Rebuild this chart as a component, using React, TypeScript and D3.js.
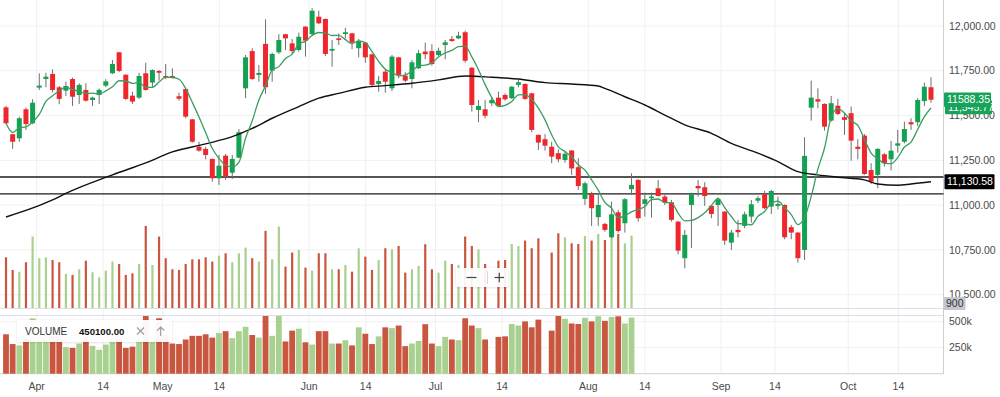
import React from 'react';
import * as d3 from 'd3';

// [open, high, low, close] per trading day
const candles: [number, number, number, number][] = [
  [11546, 11554, 11453, 11457], [11396, 11396, 11314, 11354], [11373, 11494, 11354, 11485], [11535, 11544, 11420, 11453],
  [11457, 11591, 11452, 11572], [11656, 11736, 11643, 11667], [11704, 11739, 11658, 11717], [11732, 11758, 11630, 11643],
  [11658, 11665, 11563, 11593], [11639, 11689, 11609, 11665], [11704, 11712, 11554, 11605], [11615, 11680, 11565, 11671],
  [11643, 11680, 11578, 11583], [11587, 11605, 11554, 11600], [11615, 11652, 11565, 11643], [11667, 11703, 11658, 11691],
  [11736, 11810, 11732, 11788], [11853, 11856, 11742, 11749], [11728, 11730, 11587, 11593], [11611, 11633, 11565, 11578],
  [11600, 11739, 11593, 11721], [11736, 11795, 11639, 11643], [11684, 11758, 11658, 11754], [11749, 11754, 11695, 11739],
  [11721, 11788, 11703, 11714], [11721, 11764, 11708, 11712], [11608, 11628, 11583, 11594], [11648, 11650, 11485, 11494],
  [11479, 11481, 11349, 11354], [11326, 11354, 11299, 11304], [11314, 11326, 11256, 11280], [11258, 11260, 11131, 11150],
  [11150, 11280, 11113, 11220], [11276, 11286, 11141, 11159], [11181, 11280, 11146, 11258], [11265, 11424, 11262, 11407],
  [11652, 11838, 11597, 11825], [11860, 11876, 11700, 11704], [11727, 11782, 11689, 11738], [11900, 12037, 11621, 11658],
  [11751, 11851, 11689, 11844], [11853, 11954, 11844, 11922], [11954, 11956, 11866, 11931], [11903, 11927, 11844, 11860],
  [11866, 11963, 11857, 11940], [11996, 12000, 11829, 11918], [11954, 12099, 11950, 12085], [12052, 12085, 12011, 12015],
  [12039, 12042, 11833, 11844], [11862, 11922, 11773, 11872], [11931, 11959, 11894, 11922], [11955, 11990, 11931, 11965],
  [11959, 11962, 11870, 11907], [11876, 11927, 11825, 11916], [11907, 11910, 11795, 11825], [11842, 11845, 11661, 11671],
  [11676, 11721, 11633, 11693], [11745, 11758, 11628, 11689], [11652, 11838, 11637, 11829], [11825, 11828, 11708, 11727],
  [11723, 11742, 11686, 11695], [11704, 11810, 11652, 11797], [11764, 11866, 11760, 11848], [11857, 11907, 11814, 11842],
  [11860, 11898, 11778, 11788], [11838, 11879, 11833, 11862], [11894, 11922, 11814, 11909], [11927, 11944, 11912, 11916],
  [11931, 11968, 11927, 11946], [11965, 11974, 11795, 11806], [11767, 11770, 11522, 11559], [11531, 11587, 11463, 11554],
  [11535, 11587, 11485, 11499], [11569, 11605, 11554, 11587], [11600, 11633, 11550, 11554], [11615, 11624, 11583, 11591],
  [11597, 11665, 11593, 11661], [11671, 11699, 11658, 11686], [11676, 11680, 11587, 11593], [11624, 11627, 11407, 11420],
  [11392, 11395, 11308, 11349], [11368, 11396, 11304, 11332], [11326, 11354, 11234, 11271], [11290, 11312, 11239, 11256],
  [11252, 11299, 11237, 11287], [11305, 11308, 11169, 11205], [11212, 11262, 11085, 11107], [11035, 11131, 11001, 11122],
  [11063, 11075, 10884, 10983], [10933, 11066, 10884, 11001], [10895, 10902, 10852, 10862], [10821, 11020, 10815, 10949],
  [10960, 10973, 10847, 10856], [10899, 11039, 10847, 11033], [11089, 11178, 11057, 11113], [11141, 11145, 10908, 10927],
  [11007, 11070, 10936, 11033], [11039, 11070, 10930, 11048], [11094, 11141, 11048, 11051], [11048, 11057, 11001, 11014],
  [11016, 11029, 10908, 10918], [10908, 10912, 10726, 10746], [10704, 10862, 10648, 10834], [11001, 11070, 10760, 11061],
  [11107, 11141, 11048, 11094], [11100, 11128, 10996, 11051], [10996, 11001, 10927, 10951], [11001, 11042, 10884, 11033],
  [10964, 10966, 10778, 10802], [10791, 10862, 10750, 10847], [10862, 10918, 10821, 10849], [10884, 10964, 10871, 10949],
  [10936, 11029, 10902, 11005], [11025, 11051, 11011, 11039], [11061, 11081, 10977, 10983], [10992, 11085, 10951, 11079],
  [10996, 11048, 10977, 11007], [11001, 11004, 10810, 10821], [10877, 10890, 10810, 10847], [10847, 10850, 10679, 10704],
  [10750, 11379, 10694, 11275], [11544, 11695, 11472, 11600], [11591, 11652, 11541, 11578], [11565, 11568, 11416, 11438],
  [11472, 11609, 11466, 11569], [11555, 11593, 11503, 11509], [11491, 11513, 11392, 11476], [11513, 11550, 11248, 11360],
  [11326, 11368, 11256, 11314], [11388, 11396, 11169, 11174], [11196, 11234, 11118, 11131], [11169, 11318, 11094, 11314],
  [11284, 11290, 11215, 11234], [11256, 11358, 11193, 11304], [11332, 11420, 11293, 11345], [11354, 11466, 11345, 11425],
  [11463, 11485, 11420, 11451], [11463, 11597, 11442, 11587], [11581, 11684, 11554, 11661], [11658, 11714, 11572, 11588.35],
];

// volume in thousands (null = no data)
const volumes: (number | null)[] = [
  379, 285, 272, 342, 533, 372, 379, 359, 342, 255,
  248, 290, 354, 268, 230, 280, 347, 329, 248, 260,
  329, 612, 322, 533, 372, 290, 285, 329, 364, 364,
  379, 347, 391, 409, 342, 409, 451, 372, 347, 575,
  364, 607, 310, 414, 433, 302, 280, 409, 409, 290,
  290, 322, 272, 446, 384, 285, 359, 446, 438, 463,
  265, 290, 315, 476, 290, 265, 354, 329, 322, 533,
  463, 438, 329, null, 354, 359, 478, 463, 503, 446,
  520, null, 414, 557, 528, 483, 478, 538, 503, 552,
  508, 545, 552, 483, 540,
];

// long moving average, read at [day index, value]
const longMA: [number, number][] = [
  [0, 10934], [7, 11029], [9, 11066], [16, 11169], [21, 11236], [25, 11297], [30, 11342], [34, 11382],
  [37, 11428], [40, 11485], [44, 11550], [47, 11597], [50, 11624], [54, 11658], [57, 11667], [61, 11680],
  [65, 11699], [69, 11721], [73, 11714], [77, 11704], [81, 11684], [85, 11676], [89, 11665], [90, 11652],
  [93, 11605], [96, 11559], [99, 11503], [102, 11448], [106, 11401], [109, 11345], [113, 11290], [116, 11243],
  [119, 11187], [122, 11169], [125, 11156], [129, 11141], [131, 11118], [134, 11111], [136, 11118], [139, 11130.58],
];

const levels = [11157, 11063];
const priceTicks = [10500, 10750, 11000, 11250, 11500, 11750, 12000];
const volumeTicks = [250, 500];
const dateTicks: [number, string][] = [
  [4.6, 'Apr'], [14.6, '14'], [23.55, 'May'], [32.05, '14'], [45.55, 'Jun'], [54.05, '14'], [64.55, 'Jul'],
  [74.55, '14'], [87.5, 'Aug'], [96.0, '14'], [107.45, 'Sep'], [115.55, '14'], [126.55, 'Oct'], [134.1, '14'],
];
const lastCloseLabel = '11588.35';
const shortMALabel = '11,545.77';
const shortMAValue = 11545.77;
const longMALabel = '11,130.58';
const legendName = 'VOLUME';
const legendValue = '450100.00';
const overlayVolLabel = '900';

const FONT = '"Liberation Sans", Arial, Helvetica, sans-serif';
const UP = '#13a152';
const DOWN = '#f0262d';
const VUP = '#a8d190';
const VDOWN = '#c9573f';

export default function App() {
  const n = candles.length;
  const x = d3.scaleLinear().domain([0, n - 1]).range([6, 931]);
  const y = d3.scaleLinear().domain([10426, 12145]).range([308, 0]);
  const vOver = d3.scaleLinear().domain([0, 2290]).range([308.3, 0]);
  const vPanel = d3.scaleLinear().domain([0, 500]).range([373.7, 321.7]);
  const plotRight = 943.5;

  const closes = candles.map((c) => c[3]);
  const sma5 = closes.map((_, i) => d3.mean(closes.slice(Math.max(0, i - 4), i + 1)) as number);

  const shortLine = d3
    .line<number>()
    .x((_, i) => x(i))
    .y((d) => y(d))
    .curve(d3.curveMonotoneX)(sma5) as string;
  const longLine = d3
    .line<[number, number]>()
    .x((d) => x(d[0]))
    .y((d) => y(d[1]))
    .curve(d3.curveMonotoneX)(longMA) as string;

  const fmt = d3.format(',.2f');
  const bodyW = 5;

  return (
    <svg
      width={1000}
      height={397}
      style={{ position: 'absolute', left: 0, top: 0, background: '#fff', fontFamily: FONT }}
    >
      <defs>
        <clipPath id="volclip">
          <rect x={0} y={316} width={plotRight} height={58} />
        </clipPath>
        <filter id="shadow" x="-20%" y="-40%" width="140%" height="180%">
          <feDropShadow dx="0" dy="0.5" stdDeviation="1" floodColor="#000" floodOpacity="0.15" />
        </filter>
      </defs>
      <rect x={0} y={0} width={1000} height={397} fill="#fff" />

      {/* grid */}
      {priceTicks.map((p) => (
        <line key={'pg' + p} x1={0} x2={plotRight} y1={y(p)} y2={y(p)} stroke="#f1f1f4" strokeWidth={1} />
      ))}
      {volumeTicks.map((v) => (
        <line key={'vg' + v} x1={0} x2={plotRight} y1={vPanel(v)} y2={vPanel(v)} stroke="#f1f1f4" strokeWidth={1} />
      ))}
      {dateTicks.map(([i, l], k) => (
        <line key={'dg' + k} x1={x(i)} x2={x(i)} y1={0} y2={373.7} stroke="#f0f0f3" strokeWidth={1} />
      ))}

      {/* volume overlay in price panel */}
      {volumes.map((v, i) =>
        v == null ? null : (
          <rect
            key={'vo' + i}
            x={x(i) - 1.1}
            y={vOver(v)}
            width={2.2}
            height={vOver(0) - vOver(v)}
            fill={candles[i][3] >= candles[i][0] ? VUP : VDOWN}
          />
        )
      )}

      {/* panel borders */}
      <line x1={0} x2={plotRight} y1={308.5} y2={308.5} stroke="#dcdfe8" strokeWidth={1} />
      <line x1={0} x2={plotRight} y1={315.5} y2={315.5} stroke="#dcdfe8" strokeWidth={1} />
      <line x1={0} x2={plotRight} y1={373.7} y2={373.7} stroke="#d0d0d0" strokeWidth={1} />
      <line x1={plotRight} x2={plotRight} y1={0} y2={374} stroke="#d0d0d0" strokeWidth={1} />

      {/* volume panel */}
      <g clipPath="url(#volclip)">
        {volumes.map((v, i) =>
          v == null ? null : (
            <rect
              key={'vp' + i}
              x={x(i) - 2.9}
              y={vPanel(v)}
              width={5.8}
              height={vPanel(0) - vPanel(v)}
              fill={candles[i][3] >= candles[i][0] ? VUP : VDOWN}
            />
          )
        )}
      </g>

      {/* horizontal levels */}
      {levels.map((p) => (
        <line key={'lv' + p} x1={0} x2={plotRight} y1={y(p)} y2={y(p)} stroke="#1c1c1c" strokeWidth={1.3} />
      ))}

      {/* candles */}
      {candles.map(([o, h, l, c], i) => {
        const up = c >= o;
        const top = y(Math.max(o, c));
        const bh = Math.max(1.2, Math.abs(y(o) - y(c)));
        return (
          <g key={'c' + i}>
            <line x1={x(i)} x2={x(i)} y1={y(h)} y2={y(l)} stroke="#6e6e6e" strokeWidth={1} />
            <rect x={x(i) - bodyW / 2} y={top} width={bodyW} height={bh} fill={up ? UP : DOWN} />
          </g>
        );
      })}

      {/* moving averages */}
      <path d={longLine} fill="none" stroke="#111" strokeWidth={1.4} />
      <path d={shortLine} fill="none" stroke="#3b9d60" strokeWidth={1.3} />

      {/* right axis labels */}
      {priceTicks.map((p) => (
        <text key={'pt' + p} x={949} y={y(p)} dy="0.35em" fontSize={10.5} fill="#4a4a4a">
          {fmt(p)}
        </text>
      ))}
      {volumeTicks.map((v) => (
        <text key={'vt' + v} x={949} y={vPanel(v)} dy="0.35em" fontSize={10.5} fill="#4a4a4a">
          {v + 'k'}
        </text>
      ))}

      {/* last value labels */}
      <rect x={945} y={y(shortMAValue) - 7} width={47} height={14} fill="#17a35a" rx={1} />
      <text x={948} y={y(shortMAValue)} dy="0.35em" fontSize={10.5} fill="#fff">
        {shortMALabel}
      </text>
      <rect x={944} y={y(closes[n - 1]) - 7.2} width={47} height={14.4} fill="#17a35a" rx={1} />
      <text x={947} y={y(closes[n - 1])} dy="0.35em" fontSize={10.5} fill="#fff">
        {lastCloseLabel}
      </text>
      <rect x={944.5} y={y(longMA[longMA.length - 1][1]) - 7.5} width={50} height={15} fill="#000" rx={1} />
      <text x={947} y={y(longMA[longMA.length - 1][1])} dy="0.35em" fontSize={10.5} fill="#fff">
        {longMALabel}
      </text>
      <rect x={943.5} y={297} width={22} height={13} fill="#c4c7d0" rx={1} />
      <text x={946} y={303.5} dy="0.35em" fontSize={10.5} fill="#333">
        {overlayVolLabel}
      </text>

      {/* date axis */}
      {dateTicks.map(([i, l], k) => (
        <text key={'dt' + k} x={x(i)} y={390} textAnchor="middle" fontSize={10.5} fill="#4a4a4a">
          {l}
        </text>
      ))}

      {/* zoom buttons */}
      <g>
        <rect x={456} y={268} width={52} height={19} fill="#fff" fillOpacity={0.92} rx={2} filter="url(#shadow)" />
        <line x1={466.5} x2={476.5} y1={277.5} y2={277.5} stroke="#444" strokeWidth={1.2} />
        <line x1={487.5} x2={487.5} y1={271} y2={284} stroke="#d8d8d8" strokeWidth={1} />
        <line x1={494.5} x2={504} y1={277.5} y2={277.5} stroke="#444" strokeWidth={1.2} />
        <line x1={499.25} x2={499.25} y1={272.8} y2={282.2} stroke="#444" strokeWidth={1.2} />
      </g>

      {/* volume legend */}
      <g>
        <rect x={17} y={320} width={155} height={22} fill="#fff" fillOpacity={0.95} rx={2} filter="url(#shadow)" />
        <text x={25} y={331} dy="0.35em" fontSize={10} fill="#333">
          {legendName}
        </text>
        <text x={79} y={331.5} dy="0.35em" fontSize={9.6} fontWeight="bold" fill="#111">
          {legendValue}
        </text>
        <line x1={137} x2={144} y1={327.5} y2={334.5} stroke="#9a9a9a" strokeWidth={1.1} />
        <line x1={144} x2={137} y1={327.5} y2={334.5} stroke="#9a9a9a" strokeWidth={1.1} />
        <path d="M160.7,336 L160.7,327 M157,330.7 L160.7,327 L164.4,330.7" fill="none" stroke="#9a9a9a" strokeWidth={1.1} />
      </g>
    </svg>
  );
}
